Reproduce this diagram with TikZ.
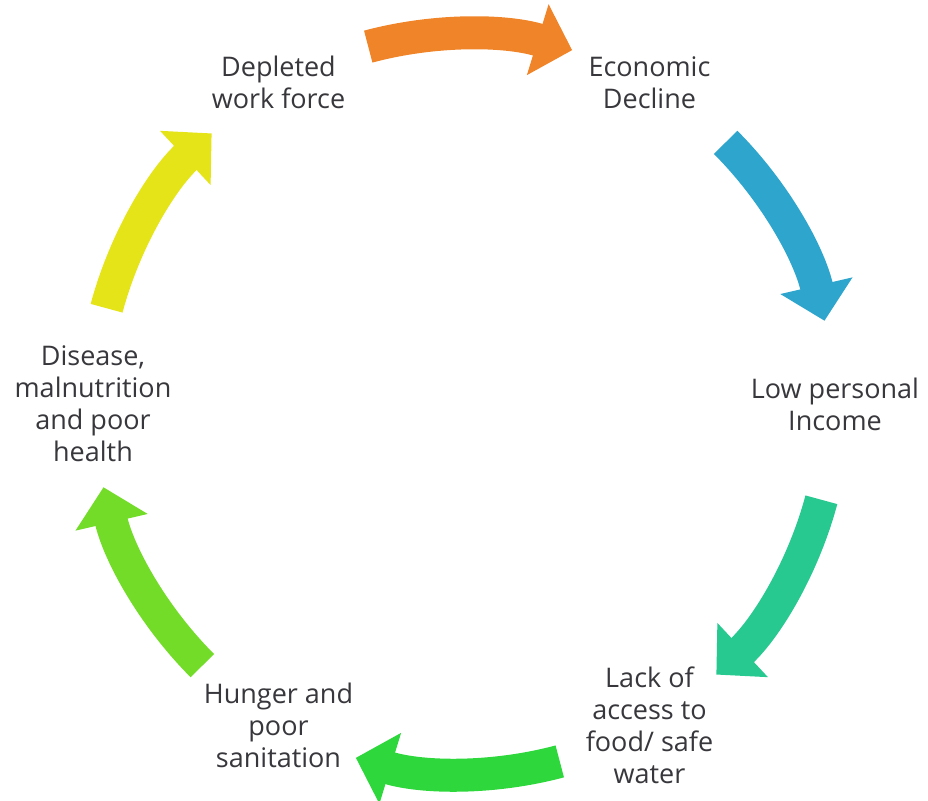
\documentclass[tikz,border=0pt]{standalone}
\usepackage{fontspec}
\setmainfont{Open Sans}
\usetikzlibrary{arrows.meta}
\definecolor{textgray}{RGB}{55,55,60}
\definecolor{arrorange}{RGB}{240,132,40}
\definecolor{arrblue}{RGB}{45,165,205}
\definecolor{arrteal}{RGB}{40,200,145}
\definecolor{arrgreen}{RGB}{45,215,60}
\definecolor{arrlime}{RGB}{115,220,40}
\definecolor{arryellow}{RGB}{228,228,25}
\begin{document}
\begin{tikzpicture}[x=0.5pt, y=0.5pt] %Cycle
    			\tikzstyle{steplabel} = [text centered, align=center, text=textgray, font=\fontsize{13.5}{16}\selectfont]
    			\tikzstyle{cyclearrow} = [line width=16.5pt, -{Triangle[width=36pt, length=18pt]}]
    			\useasboundingbox (-464,-396) rectangle (464,404);
    			\foreach \name/\angle/\txt in {work/120/{Depleted\\work force}, economy/60/{Economic\\Decline}, income/0/{Low personal\\Income}, access/-60/{Lack of\\access to\\food/ safe\\water}, hunger/-120/{Hunger and\\poor\\sanitation}, health/180/{Disease,\\malnutrition\\and poor\\health}}
   			{
       			\node[steplabel] (\name) at (\angle:371) {\txt};
    			}
    			\foreach \from/\col [evaluate=\from as \to using \from-32] in {105/arrorange, 45/arrblue, -15/arrteal, -75/arrgreen, -135/arrlime, 165/arryellow}
   			{
       			\coordinate (A\col) at (\from:370);
        			\draw[cyclearrow, \col] (A\col) arc[start angle=\from, end angle=\to, radius=185pt];
    			}
		\end{tikzpicture}
\end{document}
